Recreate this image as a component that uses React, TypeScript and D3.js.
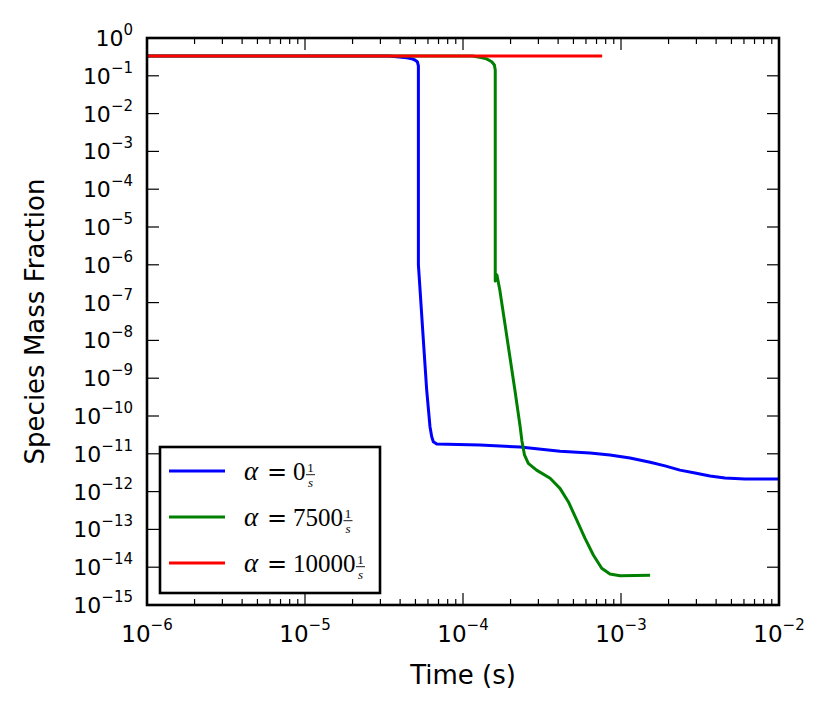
import React from "react";
import * as d3 from "d3";

const blueT = [1e-6, 3.4e-5, 4.41e-5, 4.73e-5, 4.96e-5, 5.14e-5, 5.22e-5, 5.22e-5, 5.35e-5, 5.61e-5, 5.89e-5, 6.18e-5, 6.34e-5, 6.49e-5, 6.82e-5, 1.28e-4, 2.3e-4, 4.11e-4, 6.37e-4, 8.51e-4, 1.14e-3, 1.53e-3, 1.9e-3, 2.36e-3, 2.94e-3, 3.66e-3, 4.55e-3, 6.09e-3, 1e-2];
const blueY = [0.334, 0.334, 0.3, 0.283, 0.262, 0.236, 0.182, 1e-6, 2.15e-7, 1.03e-8, 4.9e-10, 5.2e-11, 2.83e-11, 2.09e-11, 1.82e-11, 1.7e-11, 1.51e-11, 1.17e-11, 1.05e-11, 9.3e-12, 7.7e-12, 6.0e-12, 4.8e-12, 3.7e-12, 3.1e-12, 2.6e-12, 2.3e-12, 2.14e-12, 2.14e-12];

const greenT = [1e-6, 1.15e-4, 1.3e-4, 1.41e-4, 1.52e-4, 1.58e-4, 1.6e-4, 1.6e-4, 1.64e-4, 1.71e-4, 1.84e-4, 1.98e-4, 2.13e-4, 2.3e-4, 2.36e-4, 2.45e-4, 2.59e-4, 2.92e-4, 3.56e-4, 4.11e-4, 4.64e-4, 5.25e-4, 5.92e-4, 6.68e-4, 7.55e-4, 8.51e-4, 9.86e-4, 1.528e-3];
const greenY = [0.334, 0.334, 0.305, 0.28, 0.236, 0.193, 0.142, 3.7e-7, 5.4e-7, 2.15e-7, 2.83e-8, 3.7e-9, 4.9e-10, 5.2e-11, 2.19e-11, 9.3e-12, 5.6e-12, 3.7e-12, 2.25e-12, 1.22e-12, 5.4e-13, 1.77e-13, 5.8e-14, 2.1e-14, 9.4e-15, 6.6e-15, 5.96e-15, 6.1e-15];

const redT = [1e-6, 7.6e-4];
const redY = [0.334, 0.334];

const xTickExps = [-6, -5, -4, -3, -2];
const yTickExps = [0, -1, -2, -3, -4, -5, -6, -7, -8, -9, -10, -11, -12, -13, -14, -15];

const legendLabels = ["0", "7500", "10000"];
const seriesColors = ["#0000ff", "#008000", "#ff0000"];

const W = 831;
const H = 714;
const L = 147, R = 779, T = 38, B = 605;

const expText = (e: number) => (e < 0 ? "\u2212" + String(-e) : String(e));

export default function App() {
  const x = d3.scaleLog().domain([1e-6, 1e-2]).range([L, R]);
  const y = d3.scaleLog().domain([1e-15, 1]).range([B, T]);
  const line = d3
    .line<[number, number]>()
    .x((d) => x(d[0]))
    .y((d) => y(d[1]));

  const series = [
    d3.zip(blueT, blueY) as [number, number][],
    d3.zip(greenT, greenY) as [number, number][],
    d3.zip(redT, redY) as [number, number][],
  ];

  const minorX: number[] = [];
  for (let e = -6; e < -2; e++) {
    for (let m = 2; m <= 9; m++) minorX.push(m * Math.pow(10, e));
  }

  const font = "DejaVu Sans, sans-serif";
  const mathFont = "Liberation Serif, DejaVu Serif, serif";

  return (
    <svg
      width={W}
      height={H}
      style={{ position: "absolute", left: 0, top: 0, background: "#fff" }}
      fontFamily={font}
    >
      <rect x={0} y={0} width={W} height={H} fill="#fff" />
      <defs>
        <clipPath id="plotclip">
          <rect x={L} y={T} width={R - L} height={B - T} />
        </clipPath>
      </defs>

      <g clipPath="url(#plotclip)">
        {series.map((s, i) => (
          <path
            key={i}
            d={line(s) || ""}
            fill="none"
            stroke={seriesColors[i]}
            strokeWidth={3}
            strokeLinejoin="round"
          />
        ))}
      </g>

      {/* ticks */}
      <g stroke="#000" strokeWidth={1.2}>
        {xTickExps.map((e) => {
          const px = x(Math.pow(10, e));
          return (
            <g key={"xt" + e}>
              <line x1={px} x2={px} y1={B} y2={B - 12} />
              <line x1={px} x2={px} y1={T} y2={T + 12} />
            </g>
          );
        })}
        {minorX.map((v, i) => {
          const px = x(v);
          return (
            <g key={"xm" + i}>
              <line x1={px} x2={px} y1={B} y2={B - 6} />
              <line x1={px} x2={px} y1={T} y2={T + 6} />
            </g>
          );
        })}
        {yTickExps.map((e) => {
          const py = y(Math.pow(10, e));
          return (
            <g key={"yt" + e}>
              <line x1={L} x2={L + 12} y1={py} y2={py} />
              <line x1={R} x2={R - 12} y1={py} y2={py} />
            </g>
          );
        })}
      </g>

      <rect x={L} y={T} width={R - L} height={B - T} fill="none" stroke="#000" strokeWidth={2.6} />

      {/* tick labels */}
      {xTickExps.map((e) => (
        <text key={"xl" + e} x={x(Math.pow(10, e))} y={642} textAnchor="middle" fontSize={23} fill="#000">
          10
          <tspan fontSize={15} dy={-12}>{expText(e)}</tspan>
        </text>
      ))}
      {yTickExps.map((e) => (
        <text key={"yl" + e} x={133} y={y(Math.pow(10, e)) + 8} textAnchor="end" fontSize={22} fill="#000">
          10
          <tspan fontSize={15} dy={-11}>{expText(e)}</tspan>
        </text>
      ))}

      {/* axis titles */}
      <text x={463} y={684} textAnchor="middle" fontSize={26} fill="#000">
        Time (s)
      </text>
      <text
        transform={`translate(44, ${(T + B) / 2}) rotate(-90)`}
        textAnchor="middle"
        fontSize={26}
        fill="#000"
      >
        Species Mass Fraction
      </text>

      {/* legend */}
      <rect x={160} y={447} width={220} height={146} fill="#fff" stroke="#000" strokeWidth={2.6} />
      {legendLabels.map((lab, i) => {
        const cy = 471 + i * 46;
        const numX = 293;
        const numW = lab.length * 12.5;
        const fracX = numX + numW + 5;
        return (
          <g key={"lg" + i}>
            <line x1={169} x2={225} y1={cy} y2={cy} stroke={seriesColors[i]} strokeWidth={3} />
            <text fontFamily={mathFont} fontSize={25} fill="#000">
              <tspan x={244} y={cy + 8.5} fontStyle="italic" fontSize={27}>α</tspan>
              <tspan x={277} y={cy + 8.5} textAnchor="middle" fontFamily="DejaVu Serif, serif" fontSize={24}>=</tspan>
              <tspan x={numX} y={cy + 8.5}>{lab}</tspan>
            </text>
            <text x={fracX} y={cy + 0.5} textAnchor="middle" fontFamily={mathFont} fontSize={13} fill="#000">
              1
            </text>
            <line x1={fracX - 4.5} x2={fracX + 4.5} y1={cy + 3.7} y2={cy + 3.7} stroke="#000" strokeWidth={0.9} />
            <text x={fracX} y={cy + 15.5} textAnchor="middle" fontFamily={mathFont} fontStyle="italic" fontSize={13} fill="#000">
              s
            </text>
          </g>
        );
      })}
    </svg>
  );
}
